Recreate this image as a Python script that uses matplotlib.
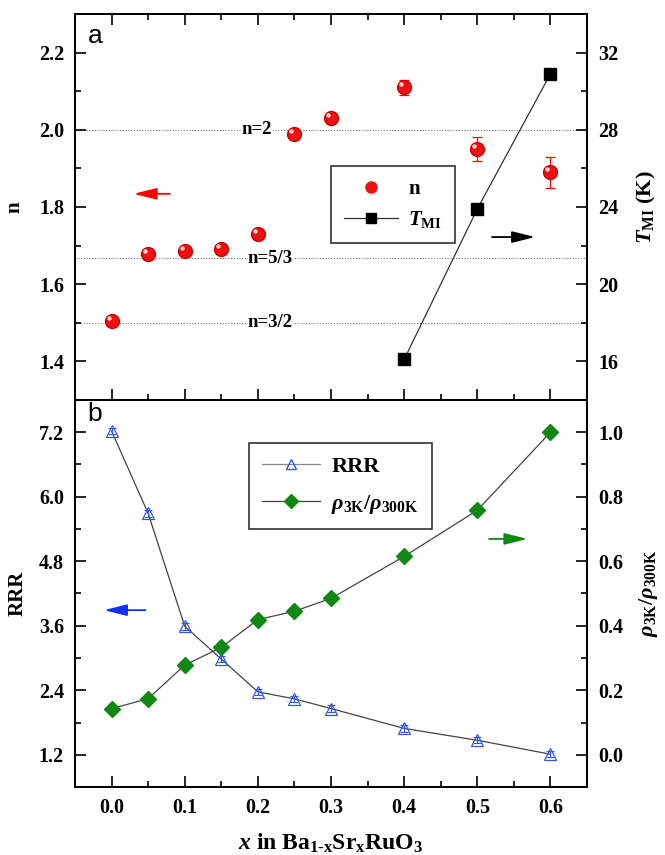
import numpy as np
import matplotlib
matplotlib.use('Agg')
import matplotlib.pyplot as plt
from matplotlib.ticker import MultipleLocator, FormatStrFormatter
from matplotlib.lines import Line2D
import matplotlib.transforms as mtransforms

plt.rcParams['font.family'] = 'Liberation Serif'
plt.rcParams['font.weight'] = 'bold'
plt.rcParams['axes.labelweight'] = 'bold'
plt.rcParams['mathtext.fontset'] = 'custom'
plt.rcParams['mathtext.rm'] = 'Liberation Serif:bold'
plt.rcParams['mathtext.it'] = 'Liberation Serif:italic:bold'
plt.rcParams['mathtext.bf'] = 'Liberation Serif:bold'

# %% DATA

# panel a
x_n     = [0.0, 0.05, 0.1, 0.15, 0.2, 0.25, 0.3, 0.4, 0.5, 0.6]
n_val   = [1.505, 1.679, 1.685, 1.69, 1.73, 1.989, 2.03, 2.11, 1.95, 1.89]
n_err   = [0.0, 0.0, 0.0, 0.0, 0.0, 0.0, 0.0, 0.02, 0.03, 0.04]
x_T     = [0.4, 0.5, 0.6]
T_MI    = [16.1, 23.9, 30.9]
n_lines = [2.0, 5/3, 1.5]
n_text  = ['n=2', 'n=5/3', 'n=3/2']
n_textx = [0.199, 0.216, 0.216]

# panel b
x_b     = [0.0, 0.05, 0.1, 0.15, 0.2, 0.25, 0.3, 0.4, 0.5, 0.6]
RRR     = [7.22, 5.69, 3.59, 2.98, 2.37, 2.24, 2.06, 1.69, 1.47, 1.21]
RRR_err = [0.06, 0.06, 0.06, 0.06, 0.06, 0.06, 0.06, 0.06, 0.06, 0.06]
rho     = [0.143, 0.174, 0.278, 0.333, 0.419, 0.445, 0.485, 0.615, 0.758, 1.0]

# %% PLOT

fig = plt.figure(figsize=(6.65, 8.55), dpi=100)
axA = fig.add_axes([0.1128, 0.5322, 0.770, 0.4515])
axB = fig.add_axes([0.1128, 0.0795, 0.770, 0.4527])
axA2 = axA.twinx()
axB2 = axB.twinx()

def style(ax, right=False):
    for s in ax.spines.values():
        s.set_linewidth(1.4)
    ax.tick_params(which='both', direction='in', width=1.2, labelsize=14.5,
                   top=True, right=False, left=not right, pad=8)
    if right:
        ax.tick_params(which='both', left=False, right=True)
    ax.tick_params(which='major', length=8)
    ax.tick_params(which='minor', length=4)
    ax.xaxis.set_major_locator(MultipleLocator(0.1))
    ax.xaxis.set_minor_locator(MultipleLocator(0.05))
    ax.set_xlim(-0.05, 0.65)

style(axA); style(axA2, right=True)
style(axB); style(axB2, right=True)
axA.tick_params(labelbottom=False)
axA.tick_params(axis='x', which='both', top=True, bottom=True)
axB.tick_params(axis='x', which='both', top=False, bottom=True)
axA2.tick_params(axis='x', which='both', top=False, bottom=False)
axB2.tick_params(axis='x', which='both', top=False, bottom=False)
axB.xaxis.set_major_formatter(FormatStrFormatter('%.1f'))

# ---- panel a
axA.set_ylim(1.3, 2.3)
axA.yaxis.set_major_locator(MultipleLocator(0.2))
axA.yaxis.set_minor_locator(MultipleLocator(0.1))
axA.yaxis.set_major_formatter(FormatStrFormatter('%.1f'))
axA2.set_ylim(14, 34)
axA2.yaxis.set_major_locator(MultipleLocator(4))
axA2.yaxis.set_minor_locator(MultipleLocator(2))

for yv, tx, xt in zip(n_lines, n_text, n_textx):
    axA.axhline(yv, color='#777777', ls=(0, (1, 1.5)), lw=0.8, zorder=1)
    axA.text(xt, yv, tx, ha='center', va='center', fontsize=13.5, zorder=2,
             bbox=dict(facecolor='white', edgecolor='none', pad=0.5))

axA.errorbar(x_n, n_val, yerr=n_err, fmt='none', ecolor='red', elinewidth=0.9,
             capsize=3.5, capthick=0.9, zorder=3)
axA.plot(x_n, n_val, 'o', color='#ee1111', mec='#cc0000', ms=10, zorder=4)
hl = mtransforms.offset_copy(axA.transData, fig=fig, x=-2.2, y=2.2, units='points')
axA.plot(x_n, n_val, 'o', color='#ffd0d0', mec='none', ms=3.2, transform=hl, zorder=5)

axA2.plot(x_T, T_MI, '-', color='#333333', lw=0.9, zorder=3)
axA2.plot(x_T, T_MI, 's', color='black', ms=8.5, zorder=4)

axA.set_ylabel('n', fontsize=15, labelpad=10)
axA2.set_ylabel(r'$\mathit{T}_{\rm MI}$ (K)', fontsize=16, labelpad=12)
axA.text(0.025, 0.975, 'a', transform=axA.transAxes, ha='left', va='top',
         fontsize=19, family='Liberation Sans', weight='normal')

arr = '-|>,head_length=1.0,head_width=0.25'
axA2.annotate('', xy=(0.109, 0.534), xytext=(0.191, 0.534), xycoords='axes fraction',
              arrowprops=dict(arrowstyle=arr, color='red', lw=1.3, mutation_scale=14))
axA2.annotate('', xy=(0.904, 0.422), xytext=(0.809, 0.422), xycoords='axes fraction',
              arrowprops=dict(arrowstyle=arr, color='black', lw=1.3, mutation_scale=14))

hA = [Line2D([], [], ls='none', marker='o', color='#ee1111', ms=8),
      Line2D([], [], ls='-', color='#333333', lw=0.9, marker='s', mfc='black',
             mec='black', ms=7)]
legA = axA2.legend(hA, ['n', r'$\mathit{T}_{\rm MI}$'], loc='upper left',
                   bbox_to_anchor=(0.48, 0.632), fancybox=False, framealpha=1,
                   edgecolor='#333333', fontsize=15, handlelength=2.6,
                   borderpad=0.6, labelspacing=0.5, handletextpad=0.5)
legA.get_frame().set_linewidth(1.2)

# ---- panel b
axB.set_ylim(0.6, 7.8)
axB.yaxis.set_major_locator(MultipleLocator(1.2))
axB.yaxis.set_minor_locator(MultipleLocator(0.6))
axB.yaxis.set_major_formatter(FormatStrFormatter('%.1f'))
axB2.set_ylim(-0.1, 1.1)
axB2.yaxis.set_major_locator(MultipleLocator(0.2))
axB2.yaxis.set_minor_locator(MultipleLocator(0.1))
axB2.yaxis.set_major_formatter(FormatStrFormatter('%.1f'))

axB.plot(x_b, RRR, '-', color='#444444', lw=0.9, zorder=2)
axB.errorbar(x_b, RRR, yerr=RRR_err, fmt='none', ecolor='#3355ee', elinewidth=0.8,
             capsize=3, capthick=0.8, zorder=3)
axB.plot(x_b, RRR, '^', mfc='none', mec='#3355ee', mew=0.9, ms=9, zorder=4)

axB2.plot(x_b, rho, '-', color='#444444', lw=0.9, zorder=2)
axB2.plot(x_b, rho, 'D', color='#118811', ms=8.5, zorder=3)

axB.set_ylabel('RRR', fontsize=15, labelpad=8)
axB2.set_ylabel(r'$\mathit{\rho}_{\rm 3K}/\mathit{\rho}_{\rm 300K}$', fontsize=16, labelpad=10)
axB.set_xlabel(r'$\mathit{x}$ in Ba$_{\rm 1\text{-}x}$Sr$_{\rm x}$RuO$_{\rm 3}$',
               fontsize=17, labelpad=10)
axB.text(0.025, 0.995, 'b', transform=axB.transAxes, ha='left', va='top',
         fontsize=19, family='Liberation Sans', weight='normal')

axB2.annotate('', xy=(0.051, 0.457), xytext=(0.143, 0.457), xycoords='axes fraction',
              arrowprops=dict(arrowstyle=arr, color='#1133ee', lw=1.3, mutation_scale=14))
axB2.annotate('', xy=(0.889, 0.641), xytext=(0.803, 0.641), xycoords='axes fraction',
              arrowprops=dict(arrowstyle=arr, color='#118811', lw=1.3, mutation_scale=14))

hB = [Line2D([], [], ls='-', color='#888888', lw=0.9, marker='^', mfc='none',
             mec='#3355ee', ms=7),
      Line2D([], [], ls='-', color='#444444', lw=0.9, marker='D',
             mfc='#118811', mec='#118811', ms=7)]
legB = axB2.legend(hB, ['RRR', r'$\mathit{\rho}_{\rm 3K}/\mathit{\rho}_{\rm 300K}$'],
                   loc='upper left', bbox_to_anchor=(0.318, 0.917), fancybox=False,
                   framealpha=1, edgecolor='#333333', fontsize=16, handlelength=2.6,
                   borderpad=0.6, labelspacing=0.7, handletextpad=0.5)
legB.get_frame().set_linewidth(1.2)

fig.savefig('out.png', dpi=100)
